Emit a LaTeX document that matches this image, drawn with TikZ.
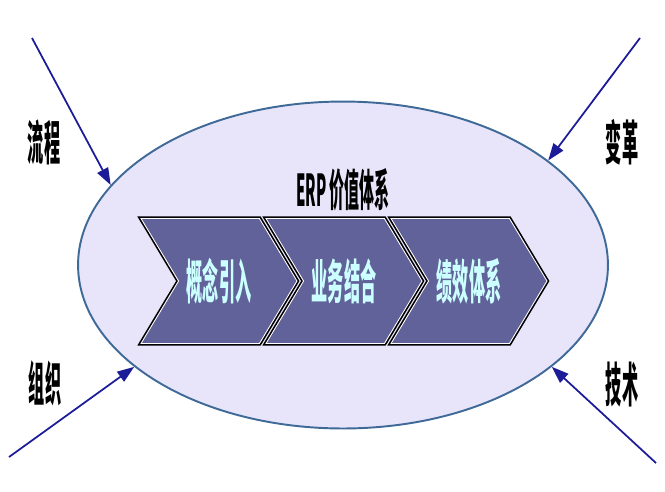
\documentclass[tikz,border=0pt]{standalone}
\usepackage{fontspec}
\usepackage{graphicx}
\newfontfamily\cjk{Noto Sans CJK SC}
\usetikzlibrary{shapes.geometric, shapes.symbols, arrows.meta, positioning}

\definecolor{ovalfill}{HTML}{E8E5FB}
\definecolor{ovalline}{HTML}{3F6A98}
\definecolor{chevfill}{HTML}{62629A}
\definecolor{chevtext}{HTML}{CCFFFF}
\definecolor{arrowblue}{HTML}{1C1C99}
\newcommand{\narrowtxt}[1]{\scalebox{0.34}[1]{#1}}

\begin{document}
\begin{tikzpicture}[
  x=0.02cm, y=-0.02cm,
  oval/.style={ellipse, draw=ovalline, line width=1.1pt, fill=ovalfill, minimum width=10.6cm, minimum height=6.54cm, inner sep=0pt},
  chev/.style={signal, signal from=west, signal to=east, signal pointer angle=118, fill=chevfill, draw=white, line width=0.5pt,
    preaction={draw=black, line width=2.4pt}, minimum width=3.12cm, minimum height=2.5cm, inner sep=0pt,
    font=\cjk\bfseries\fontsize{27}{27}\selectfont, text=chevtext},
  side/.style={font=\cjk\bfseries\fontsize{27}{27}\selectfont, inner sep=0pt},
  heading/.style={font=\cjk\bfseries\fontsize{25}{25}\selectfont, inner sep=0pt},
  push/.style={-{Triangle[length=3.4mm,width=2.4mm]}, draw=arrowblue, line width=1pt},
]
\useasboundingbox (0,0) rectangle (665,491);

% Value system oval
\node[oval] (vs) at (343,265) {};
\node[heading] (title) at (343,190) {\narrowtxt{ERP 价值体系}};

% Three stages
\node[chev] (s1) at (219,281) {\narrowtxt{概念引入}};
\node[chev] (s2) at (344,281) {\narrowtxt{业务结合}};
\node[chev] (s3) at (469,281) {\narrowtxt{绩效体系}};

% Outer drivers
\node[side] (lflow) at (44,142) {\narrowtxt{流程}};
\node[side] (lchange) at (622,142) {\narrowtxt{变革}};
\node[side] (lorg) at (45,383) {\narrowtxt{组织}};
\node[side] (ltech) at (622,384) {\narrowtxt{技术}};

\coordinate (flowsrc) at (32,38);
\coordinate (changesrc) at (640,38);
\coordinate (orgsrc) at (9,457);
\coordinate (techsrc) at (656,463);

\draw[push] (flowsrc) -- (vs.161.9);
\draw[push] (changesrc) -- (vs.27.2);
\draw[push] (orgsrc) -- (vs.206.6);
\draw[push] (techsrc) -- (vs.334.7);

\end{tikzpicture}
\end{document}
